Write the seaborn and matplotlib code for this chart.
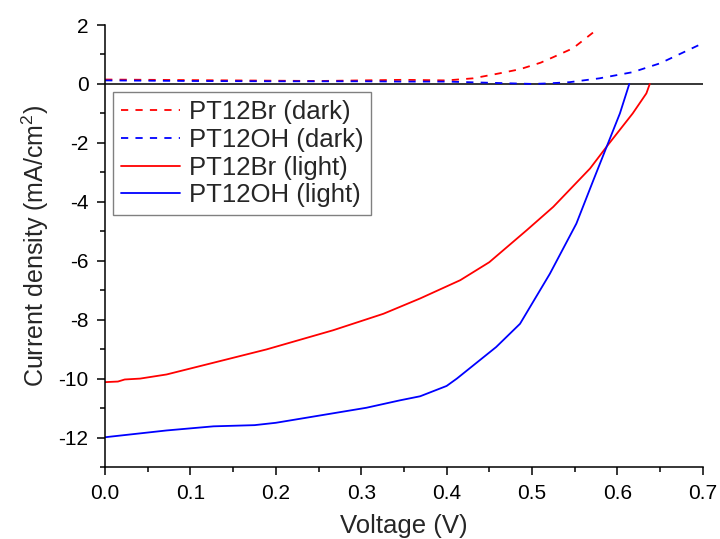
import numpy as np
import pandas as pd
import seaborn as sns
import matplotlib
matplotlib.use("Agg")
import matplotlib.pyplot as plt
from matplotlib.ticker import MultipleLocator

# J-V curves (V in volts, J in mA/cm2)
br_dark_v = [0, 0.05, 0.1, 0.15, 0.2, 0.25, 0.3, 0.35, 0.4, 0.431, 0.462, 0.486, 0.51, 0.525, 0.548, 0.574]
br_dark_j = [0.15, 0.14, 0.13, 0.12, 0.11, 0.10, 0.12, 0.14, 0.12, 0.19, 0.36, 0.50, 0.72, 0.91, 1.21, 1.80]

oh_dark_v = [0, 0.05, 0.1, 0.2, 0.3, 0.35, 0.4, 0.45, 0.501, 0.52, 0.544, 0.579, 0.618, 0.65, 0.675, 0.7]
oh_dark_j = [0.12, 0.11, 0.10, 0.09, 0.09, 0.08, 0.08, 0.04, 0.0, 0.02, 0.06, 0.19, 0.40, 0.70, 1.04, 1.38]

br_light_v = [0, 0.015, 0.023, 0.041, 0.072, 0.123, 0.189, 0.267, 0.326, 0.369, 0.416, 0.45,
              0.494, 0.525, 0.568, 0.589, 0.618, 0.634, 0.638]
br_light_j = [-10.12, -10.10, -10.03, -10.0, -9.86, -9.49, -9.01, -8.36, -7.80, -7.28, -6.66, -6.05,
              -4.96, -4.17, -2.87, -2.07, -1.0, -0.32, 0.0]

oh_light_v = [0, 0.072, 0.127, 0.175, 0.2, 0.252, 0.306, 0.345, 0.369, 0.40, 0.412, 0.458,
              0.486, 0.521, 0.552, 0.572, 0.589, 0.603, 0.614]
oh_light_j = [-11.99, -11.76, -11.62, -11.58, -11.50, -11.25, -10.99, -10.74, -10.60, -10.25, -10.0, -8.93,
              -8.14, -6.44, -4.74, -3.26, -2.02, -1.0, 0.0]

series = [
    ("PT12Br (dark)", br_dark_v, br_dark_j, "#ff0000", (4, 4)),
    ("PT12OH (dark)", oh_dark_v, oh_dark_j, "#0000ff", (4, 4)),
    ("PT12Br (light)", br_light_v, br_light_j, "#ff0000", ""),
    ("PT12OH (light)", oh_light_v, oh_light_j, "#0000ff", ""),
]

sns.set_theme(style="ticks")
plt.rcParams["font.family"] = ["Liberation Sans", "DejaVu Sans"]
plt.rcParams["mathtext.fontset"] = "custom"
plt.rcParams["mathtext.rm"] = "Liberation Sans"
plt.rcParams["mathtext.it"] = "Liberation Sans:italic"
plt.rcParams["mathtext.default"] = "regular"

fig = plt.figure(figsize=(7.2, 5.39), dpi=100)
ax = fig.add_axes([0.146, 0.1336, 0.830, 0.820])

ax.axhline(0, color="black", lw=1.1, zorder=1)

for label, v, j, color, dash in series:
    df = pd.DataFrame({"V": v, "J": j})
    sns.lineplot(data=df, x="V", y="J", ax=ax, color=color, lw=1.3,
                 sort=False, label=label, zorder=2)
    if dash:
        ax.lines[-1].set_dashes(dash)

ax.set_xlim(0, 0.7)
ax.set_ylim(-13, 2)
ax.xaxis.set_major_locator(MultipleLocator(0.1))
ax.xaxis.set_minor_locator(MultipleLocator(0.05))
ax.yaxis.set_major_locator(MultipleLocator(2))
ax.yaxis.set_minor_locator(MultipleLocator(1))
ax.xaxis.set_major_formatter(matplotlib.ticker.FormatStrFormatter("%.1f"))
ax.yaxis.set_major_formatter(matplotlib.ticker.FuncFormatter(lambda y, _: f"{int(round(y))}"))

sns.despine(ax=ax)
for side in ["left", "bottom"]:
    ax.spines[side].set_linewidth(1.1)
    ax.spines[side].set_color("black")
ax.tick_params(which="major", direction="out", length=6, width=1.1, labelsize=15, pad=6, colors="black")
ax.tick_params(which="minor", direction="out", length=3.5, width=1.1, colors="black")

ax.set_xlabel("Voltage (V)", fontsize=18.5, labelpad=8)
ax.set_ylabel("Current density (mA/cm$^{2}$)", fontsize=18, labelpad=5)

leg = ax.legend(loc="upper left", bbox_to_anchor=(0.013, 0.848), borderaxespad=0,
                fontsize=18.5, frameon=True, fancybox=False, handlelength=2.3,
                handletextpad=0.35, labelspacing=0.15, borderpad=0.3)
leg.get_frame().set_edgecolor("#808080")
leg.get_frame().set_linewidth(1.0)
leg.get_frame().set_alpha(1)

fig.savefig("out.png", dpi=100)
